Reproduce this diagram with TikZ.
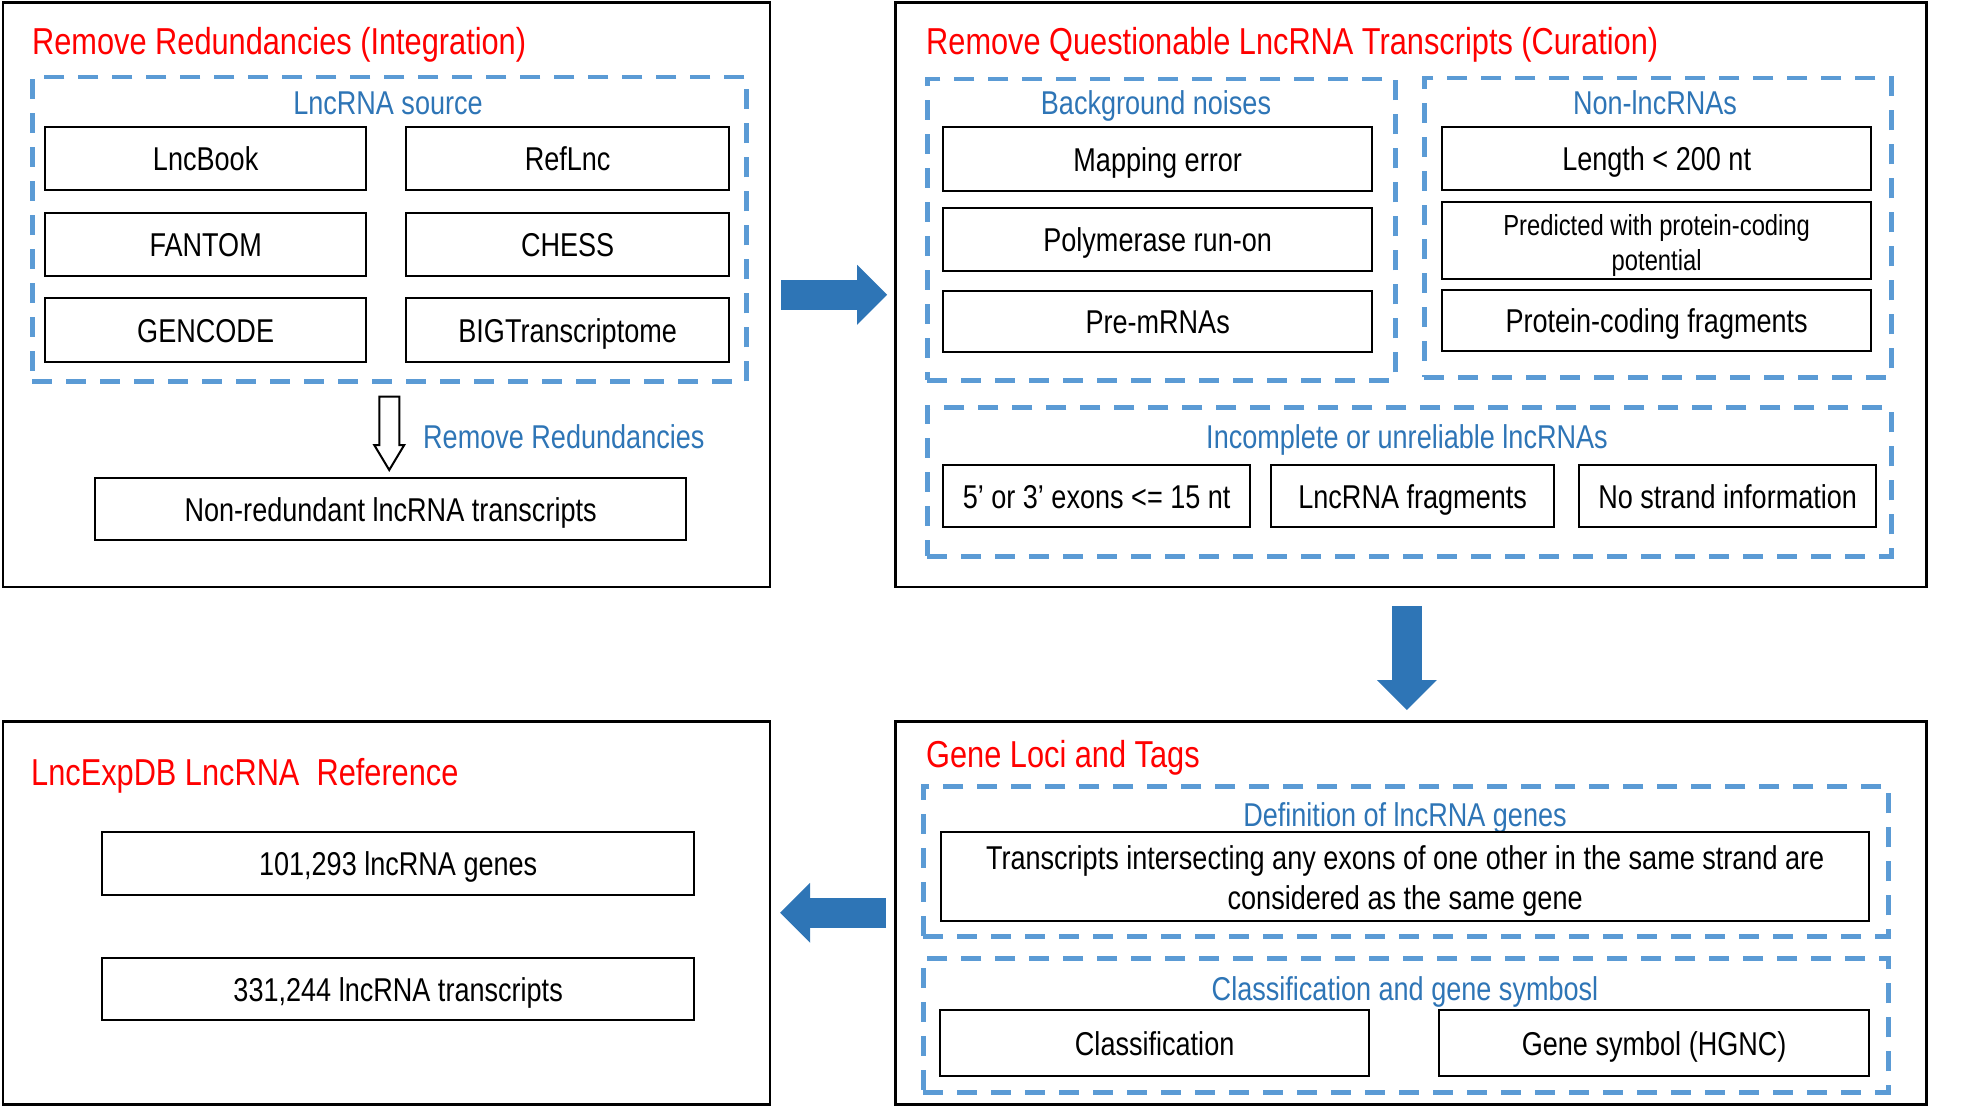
\documentclass[tikz,border=0pt]{standalone}
\usepackage{fontspec}
\setmainfont{Liberation Sans}[FakeStretch=0.82]
\usetikzlibrary{arrows.meta,calc}
\definecolor{grpblue}{HTML}{5B9BD5}
\definecolor{txtblue}{HTML}{2E75B6}
\definecolor{arrblue}{HTML}{2E75B6}

\begin{document}
\begin{tikzpicture}[x=1pt,y=-1pt,
panel/.style={draw,line width=2.5pt,anchor=north west,inner sep=0pt},
grpbox/.style={draw=grpblue,line width=4.5pt,dash pattern=on 20pt off 14pt,anchor=north west,inner sep=0pt},
itembox/.style={draw,line width=2.3pt,anchor=north west,inner sep=0pt,font=\fontsize{33}{40}\selectfont,text height=24pt,text depth=0pt},
twoline/.style={draw,line width=2.3pt,anchor=north west,inner sep=0pt,align=center},
grplabel/.style={txtblue,anchor=base,inner sep=0pt,font=\fontsize{33}{40}\selectfont},
paneltitle/.style={red,anchor=base west,inner sep=0pt,font=\fontsize{37.5}{44}\selectfont},
bigarrow/.style={arrblue,line width=30pt,-{Triangle[length=30pt,width=60pt,line width=0pt]}},
hollowarrow/.style={draw,line width=2pt,fill=white,line join=miter}]
\useasboundingbox (0,0) rectangle (1961,1105);

% panels
\node[panel,minimum width=767pt,minimum height=584pt] (panA) at (1.5,1.5) {};
\node[panel,minimum width=1031pt,minimum height=584pt] (panB) at (894,1.5) {};
\node[panel,minimum width=767pt,minimum height=383pt] (panC) at (1.5,720) {};
\node[panel,minimum width=1031pt,minimum height=383pt] (panD) at (894,720) {};

\node[paneltitle] (titA) at (32,54.5) {Remove Redundancies (Integration)};
\node[paneltitle] (titB) at (926,54.5) {Remove Questionable LncRNA Transcripts (Curation)};
\node[paneltitle] (titC) at (31,785) {LncExpDB LncRNA\ \ Reference};
\node[paneltitle] (titD) at (926,767) {Gene Loci and Tags};

% integration
\node[grpbox,minimum width=714pt,minimum height=304pt] (srcgrp) at (30,75) {};
\node[grplabel] (srclab) at (388,114) {LncRNA source};
\node[itembox,minimum width=321pt,minimum height=63pt] (lncbook) at (44,126) {LncBook};
\node[itembox,minimum width=323pt,minimum height=63pt] (reflnc) at (405,126) {RefLnc};
\node[itembox,minimum width=321pt,minimum height=63pt] (fantom) at (44,212) {FANTOM};
\node[itembox,minimum width=323pt,minimum height=63pt] (chess) at (405,212) {CHESS};
\node[itembox,minimum width=321pt,minimum height=64pt] (gencode) at (44,297) {GENCODE};
\node[itembox,minimum width=323pt,minimum height=64pt] (bigtr) at (405,297) {BIGTranscriptome};
\node[itembox,minimum width=591pt,minimum height=62pt] (nonred) at (94,477) {Non-redundant lncRNA transcripts};

\draw[hollowarrow] ($(srcgrp.south)+(-10,13)$) -- ++(20,0)
  -- ($(srcgrp.south |- nonred.north)+(10,-32)$) -- ++(5,0)
  -- ($(srcgrp.south |- nonred.north)+(0,-7)$) -- ++(-15,-25) -- ++(5,0) -- cycle;
\node[grplabel,anchor=base west] (rrlab) at (423,448) {Remove Redundancies};

% curation
\node[grpbox,minimum width=468pt,minimum height=301pt] (noisegrp) at (925,77) {};
\node[grplabel] (noiselab) at (1156,114) {Background noises};
\node[itembox,minimum width=429pt,minimum height=64pt] (maperr) at (942,126) {Mapping error};
\node[itembox,minimum width=429pt,minimum height=63pt] (polyrun) at (942,207) {Polymerase run-on};
\node[itembox,minimum width=429pt,minimum height=61pt] (premrna) at (942,290) {Pre-mRNAs};

\node[grpbox,minimum width=467pt,minimum height=299pt] (nongrp) at (1422,76) {};
\node[grplabel] (nonlab) at (1655,114) {Non-lncRNAs};
\node[itembox,minimum width=429pt,minimum height=63pt] (lenbox) at (1441,126) {Length < 200 nt};
\node[twoline,minimum width=429pt,minimum height=77pt,font=\fontsize{29}{35}\selectfont] (predbox) at (1441,201) {\rule{0pt}{31pt}Predicted with protein-coding\\potential};
\node[itembox,minimum width=429pt,minimum height=61pt] (pcfrag) at (1441,289) {Protein-coding fragments};

\node[grpbox,minimum width=964pt,minimum height=149pt] (incgrp) at (925,405) {};
\node[grplabel] (inclab) at (1407,448) {Incomplete or unreliable lncRNAs};
\node[itembox,minimum width=307pt,minimum height=62pt] (exonbox) at (942,464) {5’ or 3’ exons <= 15 nt};
\node[itembox,minimum width=283pt,minimum height=62pt] (fragbox) at (1270,464) {LncRNA fragments};
\node[itembox,minimum width=297pt,minimum height=62pt] (strandbox) at (1578,464) {No strand information};

% gene loci
\node[grpbox,minimum width=965pt,minimum height=150pt] (defgrp) at (921,784) {};
\node[grplabel] (deflab) at (1405,826) {Definition of lncRNA genes};
\node[twoline,minimum width=928pt,minimum height=89pt,font=\fontsize{33}{40}\selectfont] (defbox) at (940,831) {\rule{0pt}{32pt}Transcripts intersecting any exons of one other in the same strand are\\considered as the same gene};

\node[grpbox,minimum width=965pt,minimum height=134pt] (clsgrp) at (921,956) {};
\node[grplabel] (clslab) at (1405,1000) {Classification and gene symbosl};
\node[itembox,minimum width=429pt,minimum height=66pt] (clsbox) at (939,1009) {Classification};
\node[itembox,minimum width=430pt,minimum height=66pt] (symbox) at (1438,1009) {Gene symbol (HGNC)};

% reference
\node[itembox,minimum width=592pt,minimum height=63pt] (refgenes) at (101,831) {101,293 lncRNA genes};
\node[itembox,minimum width=592pt,minimum height=62pt] (reftrans) at (101,957) {331,244 lncRNA transcripts};

\draw[bigarrow,shorten <=10pt,shorten >=7pt] (panA.east) -- (panB.west);
\draw[bigarrow,shorten <=18pt,shorten >=10pt] ([xshift=-4pt]panB.south) -- ([xshift=-4pt]panD.north);
\draw[bigarrow,shorten <=8pt,shorten >=9pt] (panD.west) -- (panC.east);

\end{tikzpicture}
\end{document}
